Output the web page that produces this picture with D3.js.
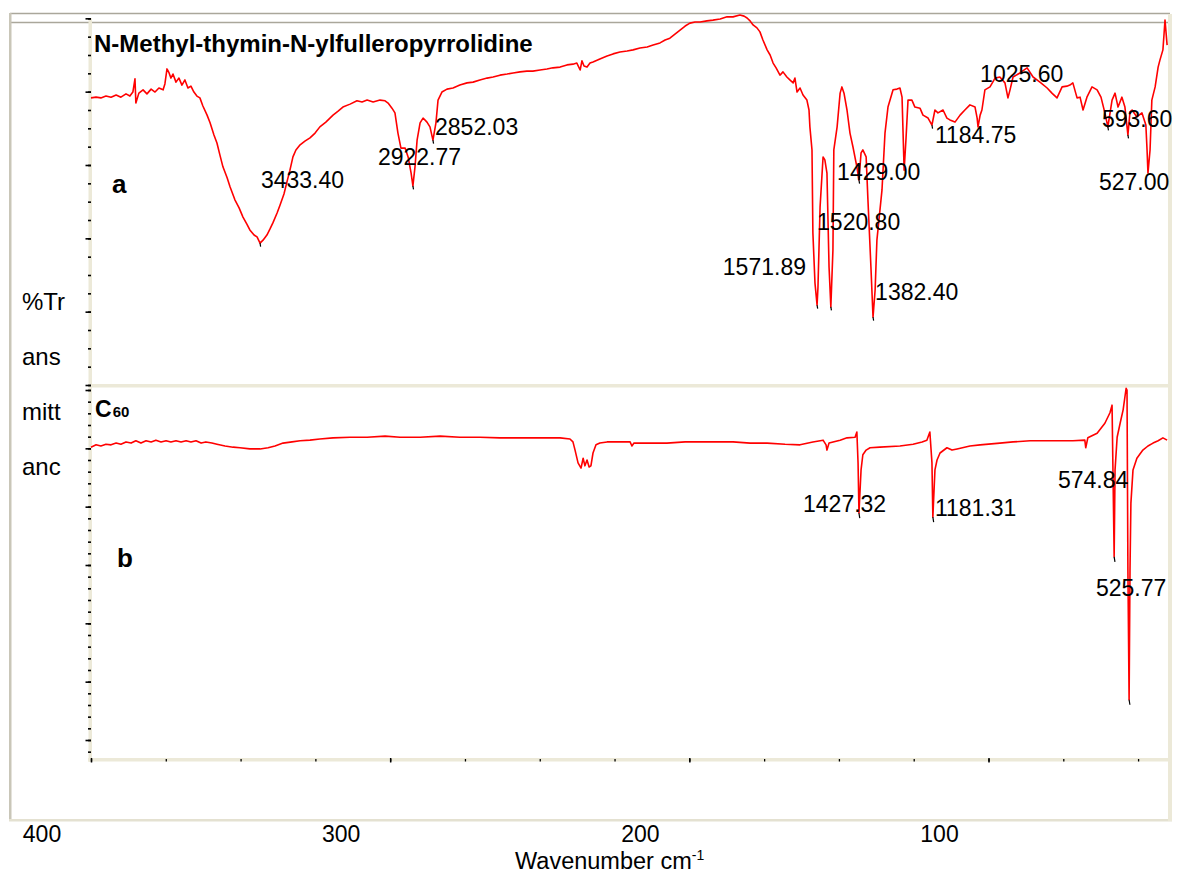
<!DOCTYPE html>
<html><head><meta charset="utf-8">
<script src="https://cdn.jsdelivr.net/npm/d3@7"></script>
<style>
html,body{margin:0;padding:0;background:#fff;}
svg{display:block;font-family:"Liberation Sans",Arial,sans-serif;}
</style></head>
<body><svg id="chart" width="1177" height="877"></svg>
<script>
// ---- Spectrum a : N-Methyl-thymin-N-ylfulleropyrrolidine (wavenumber cm-1, %T) ----
const wnA = [4000,3983,3967,3950,3933,3916,3900,3883,3870,3860,3853,3850,3840,3826,3813,3799,3786,3773,3759,3753,
  3746,3739,3733,3726,3716,3706,3696,3686,3676,3666,3656,3646,3636,3626,3612,3602,3589,3579,3569,3559,
  3545,3535,3519,3505,3492,3479,3469,3455,3445,3435,3425,3412,3402,3392,3378,3368,3355,3345,3335,3325,
  3315,3301,3285,3268,3251,3235,3215,3191,3174,3158,3134,3111,3094,3077,3057,3034,3017,3007,2994,2984,
  2974,2964,2950,2940,2930,2924,2917,2910,2900,2890,2877,2867,2857,2847,2840,2827,2810,2790,2767,2743,
  2723,2700,2676,2656,2633,2609,2589,2566,2543,2523,2499,2476,2456,2432,2409,2389,2376,2365,2359,2352,
  2342,2332,2322,2299,2275,2255,2232,2208,2188,2165,2141,2121,2098,2081,2065,2048,2031,2014,1998,1981,
  1964,1941,1921,1897,1874,1854,1831,1817,1807,1797,1787,1774,1764,1754,1740,1730,1720,1710,1697,1687,
  1674,1664,1653,1647,1640,1630,1620,1607,1600,1597,1590,1587,1580,1573,1570,1563,1553,1547,1540,1533,
  1527,1520,1517,1506,1496,1490,1483,1473,1463,1453,1440,1433,1426,1420,1409,1403,1393,1386,1379,1373,
  1356,1346,1336,1319,1306,1296,1289,1282,1276,1269,1256,1246,1229,1219,1202,1189,1179,1169,1152,1139,
  1129,1112,1095,1079,1062,1045,1038,1035,1028,1022,1012,995,978,962,945,935,928,918,895,871,
  851,828,804,788,771,754,738,728,718,704,694,684,671,654,637,624,611,601,587,577,
  567,554,544,534,527,520,504,487,474,470,467,460,454,443,433,427,417,413,410,403];
const tA = [78.3,78.5,78.3,78.8,78.5,79.1,78.5,79.4,78.8,79.9,83.5,76.9,79.6,80.5,79.4,80.7,79.9,81.0,80.5,82.1,
  86.2,85.1,83.7,84.8,82.6,83.7,81.8,83.2,81.0,81.5,79.9,78.8,78.3,76.1,73.6,71.5,68.2,66.0,62.7,59.5,
  56.5,54.0,50.5,48.3,45.8,43.9,42.3,40.9,40.4,38.7,39.5,40.9,42.5,44.2,46.9,49.1,52.1,55.4,58.6,62.2,
  64.1,65.5,66.5,67.4,68.7,70.4,71.7,73.6,74.7,75.8,76.6,77.5,77.2,77.7,77.2,77.7,77.5,76.9,75.5,74.2,
  68.7,64.6,64.6,62.2,57.8,54.3,59.5,66.8,71.5,72.8,71.7,70.4,66.8,71.5,77.7,79.9,80.7,81.0,81.8,82.4,
  82.6,83.2,83.7,84.0,84.5,84.8,85.1,85.4,85.6,85.6,85.9,86.2,86.5,86.7,87.3,87.5,87.8,85.9,88.4,87.0,
  86.7,87.8,88.1,88.9,89.7,90.3,90.8,91.1,91.4,91.9,92.2,92.7,93.3,94.1,94.6,95.7,96.8,97.9,98.7,99.0,
  99.0,99.3,99.5,99.8,100.4,100.4,100.9,100.6,100.1,99.3,98.2,97.4,96.3,94.1,91.4,90.0,87.8,86.5,84.5,85.4,
  84.0,83.2,82.4,83.7,79.9,81.0,79.1,77.7,75.0,70.4,64.1,41.5,27.8,21.8,26.7,48.5,62.2,61.4,57.8,32.2,
  21.3,36.8,64.1,70.4,79.6,81.3,79.6,75.0,68.7,64.9,59.5,55.9,63.3,64.1,62.2,50.5,32.2,18.5,25.9,39.5,
  53.2,68.7,75.8,80.5,80.7,81.0,78.5,58.6,66.8,77.7,77.7,75.8,75.5,73.6,72.8,70.9,75.0,74.2,75.0,72.8,
  72.3,71.7,73.6,75.0,76.4,75.8,72.8,70.4,73.6,75.0,80.5,81.3,83.7,84.0,82.4,78.3,80.5,84.0,85.1,86.5,
  84.0,82.6,81.0,79.6,78.3,81.3,81.5,81.8,82.4,78.3,78.5,75.0,78.5,81.3,80.5,78.5,74.2,70.4,77.7,79.6,
  75.8,78.5,75.8,68.2,74.5,75.0,73.1,74.2,70.9,64.1,57.8,64.1,77.7,81.3,86.7,88.6,91.4,96.0,99.5,92.7];

// ---- Spectrum b : C60 ----
const wnB = [4000,3983,3967,3950,3933,3916,3900,3883,3866,3850,3833,3816,3799,3783,3766,3749,3733,3716,3699,3682,
  3666,3649,3632,3616,3596,3579,3552,3525,3502,3469,3435,3408,3385,3358,3328,3301,3268,3235,3191,3134,
  3077,3017,2967,2900,2833,2767,2700,2633,2566,2499,2432,2399,2389,2382,2372,2362,2355,2349,2342,2335,
  2329,2322,2312,2299,2275,2232,2198,2192,2185,2131,2075,2014,1964,1897,1854,1797,1740,1680,1630,1587,
  1553,1543,1540,1533,1496,1473,1446,1440,1436,1433,1426,1420,1409,1396,1363,1296,1252,1222,1206,1196,
  1189,1186,1179,1172,1162,1139,1122,1105,1062,1028,962,918,861,804,761,718,678,675,668,637,
  611,594,587,584,580,577,570,560,550,540,537,534,530,527,524,517,504,484,467,450,
  433,417,403];
const tB = [50.2,50.6,50.4,50.7,50.6,50.9,50.7,51.1,50.9,51.3,50.9,51.3,51.1,51.4,51.1,51.3,51.1,51.3,51.1,51.3,
  51.1,51.3,50.9,51.1,50.9,50.7,50.4,50.2,50.1,49.9,49.9,50.1,50.4,50.9,51.1,51.3,51.4,51.6,51.8,51.9,
  51.9,52.1,51.9,51.9,52.1,51.9,51.9,51.8,51.8,51.8,51.8,51.6,51.1,49.7,47.5,46.6,48.3,47.0,48.0,46.8,
  47.0,49.2,50.6,50.9,51.1,51.1,51.1,50.4,50.9,50.9,50.9,51.1,51.1,51.1,51.1,50.9,50.9,50.7,50.6,51.1,
  51.4,50.6,49.7,50.9,51.4,51.8,51.9,52.8,47.5,38.9,46.3,48.9,49.7,50.1,50.2,50.4,50.7,51.1,51.4,52.8,
  47.5,38.2,46.3,48.0,49.2,50.1,49.7,49.9,50.4,50.6,50.9,51.1,51.3,51.3,51.3,51.3,51.4,50.1,51.8,52.6,
  54.3,56.1,57.4,46.3,31.4,46.3,51.9,54.3,56.6,60.3,60.0,29.1,6.9,29.1,40.6,46.3,48.3,49.7,50.4,50.9,
  51.3,51.8,51.4];

// ---- Peak labels ----
const peakTextA = ["3433.40","2922.77","2852.03","1571.89","1520.80","1429.00","1382.40","1184.75","1025.60","593.60","527.00"];
const peakWnA   = [3432,3041,2850,1888,1573,1506,1379,1179,1028,621,631];
const peakTA    = [53.7,60.0,68.2,30.0,42.3,55.9,23.2,66.0,82.6,70.4,53.2];
const peakTextB = ["1427.32","1181.31","574.84","525.77"];
const peakWnB   = [1620,1179,768,641];
const peakTB    = [39.1,38.4,43.2,24.7];
// peak-pick markers
const markWnA = [3435,2924,2857,1573,1527,1433,1386,1189,601,534];
const markTA  = [38.7,54.3,66.8,21.8,21.3,55.9,18.5,70.9,70.4,68.2];
const markWnB = [1433,1186,580,530];
const markTB  = [38.9,38.2,31.4,6.9];

// ---- Axis ticks ----
const xTickLabels = ["400","300","200","100"];
const xTickMajor = [4000,3000,2000,1000];
const xTickMinor = d3.range(4000, 399, -250);
const yTicksA = d3.range(0, 101, 5);
const yTicksAMajor = d3.range(0, 101, 20);
const yTicksB = d3.range(-2, 61, 2);
const yTicksBMajor = d3.range(0, 61, 10);

const svg = d3.select("#chart");
const x = d3.scaleLinear().domain([4000, 400]).range([91, 1168]);
const yA = d3.scaleLinear().domain([0, 100]).range([385, 18.33]);
const yB = d3.scaleLinear().domain([0, 60]).range([740, 390]);

// window frame
const frameGray = "#aaa79b", beige = "#ece9d8";
svg.append("line").attr("x1",10).attr("x2",1170).attr("y1",13.5).attr("y2",13.5).attr("stroke",frameGray).attr("stroke-width",1.5);
svg.append("line").attr("x1",10).attr("x2",1168).attr("y1",22.5).attr("y2",22.5).attr("stroke",frameGray).attr("stroke-width",1.5);
svg.append("rect").attr("x",9).attr("y",13).attr("width",2.5).attr("height",808).attr("fill","#c9c6b8");
svg.append("rect").attr("x",9).attr("y",819).attr("width",1163).attr("height",2.5).attr("fill","#e4e1d1");
svg.append("rect").attr("x",1168).attr("y",14).attr("width",4).attr("height",807).attr("fill",beige);

// plot bands
svg.append("rect").attr("x",88.5).attr("y",18).attr("width",3.5).attr("height",744).attr("fill",beige);
svg.append("rect").attr("x",91).attr("y",384).attr("width",1077).attr("height",3.5).attr("fill",beige);
svg.append("rect").attr("x",88).attr("y",758).attr("width",1080).attr("height",3.5).attr("fill",beige);

function styleAxis(g, w){
  g.select(".domain").remove();
  g.selectAll(".tick line").attr("stroke","#000").attr("stroke-width",w);
  g.selectAll(".tick text").remove();
}
// left axis ticks
styleAxis(svg.append("g").attr("transform","translate(91,0)")
  .call(d3.axisLeft(yA).tickValues(yTicksA).tickSize(3).tickFormat("")), 1.6);
styleAxis(svg.append("g").attr("transform","translate(91,0)")
  .call(d3.axisLeft(yA).tickValues(yTicksAMajor).tickSize(5.5).tickFormat("")), 1.6);
styleAxis(svg.append("g").attr("transform","translate(91,0)")
  .call(d3.axisLeft(yB).tickValues(yTicksB).tickSize(3).tickFormat("")), 1.6);
styleAxis(svg.append("g").attr("transform","translate(91,0)")
  .call(d3.axisLeft(yB).tickValues(yTicksBMajor).tickSize(5.5).tickFormat("")), 1.6);
// bottom axis ticks
styleAxis(svg.append("g").attr("transform","translate(0,759)")
  .call(d3.axisBottom(x).tickValues(xTickMinor).tickSize(2.5).tickFormat("")), 1.3);
styleAxis(svg.append("g").attr("transform","translate(0,758)")
  .call(d3.axisBottom(x).tickValues(xTickMajor).tickSize(4.5).tickFormat("")), 1.5);

// x tick labels (drawn offset to the left of their ticks, as in the original)
svg.append("g").selectAll("text").data(xTickMajor).join("text")
  .attr("x", d => x(d) - 49).attr("y", 842)
  .attr("text-anchor","middle").attr("font-size",23).attr("fill","#000")
  .text((d,i) => xTickLabels[i]);

// axis title
const xt = svg.append("text").attr("x",515).attr("y",869).attr("font-size",23.5).attr("fill","#000");
xt.append("tspan").text("Wavenumber cm");
xt.append("tspan").attr("dy",-9).attr("font-size",14).text("-1");

// y label split in lines
const yLab = ["%Tr","ans","mitt","anc"];
svg.append("g").selectAll("text").data(yLab).join("text")
  .attr("x",22).attr("y",(d,i)=>310+i*55).attr("font-size",24).attr("fill","#000").text(d=>d);

// spectra
const lineA = d3.line().x((d,i)=>x(wnA[i])).y((d,i)=>yA(tA[i]));
const lineB = d3.line().x((d,i)=>x(wnB[i])).y((d,i)=>yB(tB[i]));
svg.append("path").attr("d", lineA(wnA)).attr("fill","none").attr("stroke","#ff0000").attr("stroke-width",1.6).attr("stroke-linejoin","round");
svg.append("path").attr("d", lineB(wnB)).attr("fill","none").attr("stroke","#ff0000").attr("stroke-width",1.6).attr("stroke-linejoin","round");

// peak markers
svg.append("g").selectAll("line").data(markWnA).join("line")
  .attr("x1",d=>x(d)).attr("x2",d=>x(d)+0.6).attr("y1",(d,i)=>yA(markTA[i])).attr("y2",(d,i)=>yA(markTA[i])+3.5)
  .attr("stroke","#000").attr("stroke-width",1.2);
svg.append("g").selectAll("line").data(markWnB).join("line")
  .attr("x1",d=>x(d)).attr("x2",d=>x(d)+0.8).attr("y1",(d,i)=>yB(markTB[i])).attr("y2",(d,i)=>yB(markTB[i])+5)
  .attr("stroke","#000").attr("stroke-width",1.2);

// peak labels
svg.append("g").selectAll("text").data(peakTextA).join("text")
  .attr("x",(d,i)=>x(peakWnA[i])).attr("y",(d,i)=>yA(peakTA[i]))
  .attr("font-size",23).attr("fill","#000").text(d=>d);
svg.append("g").selectAll("text").data(peakTextB).join("text")
  .attr("x",(d,i)=>x(peakWnB[i])).attr("y",(d,i)=>yB(peakTB[i]))
  .attr("font-size",23).attr("fill","#000").text(d=>d);

// panel titles
svg.append("text").attr("x",94).attr("y",52).attr("font-size",24).attr("font-weight","bold").attr("fill","#000")
  .text("N-Methyl-thymin-N-ylfulleropyrrolidine");
svg.append("text").attr("x",112).attr("y",193).attr("font-size",26).attr("font-weight","bold").attr("fill","#000").text("a");
const c60 = svg.append("text").attr("x",95).attr("y",417).attr("font-size",23).attr("font-weight","bold").attr("fill","#000");
c60.append("tspan").text("C");
c60.append("tspan").attr("font-size",15).attr("dx",1).text("60");
svg.append("text").attr("x",117).attr("y",567).attr("font-size",26).attr("font-weight","bold").attr("fill","#000").text("b");
</script>
</body></html>
